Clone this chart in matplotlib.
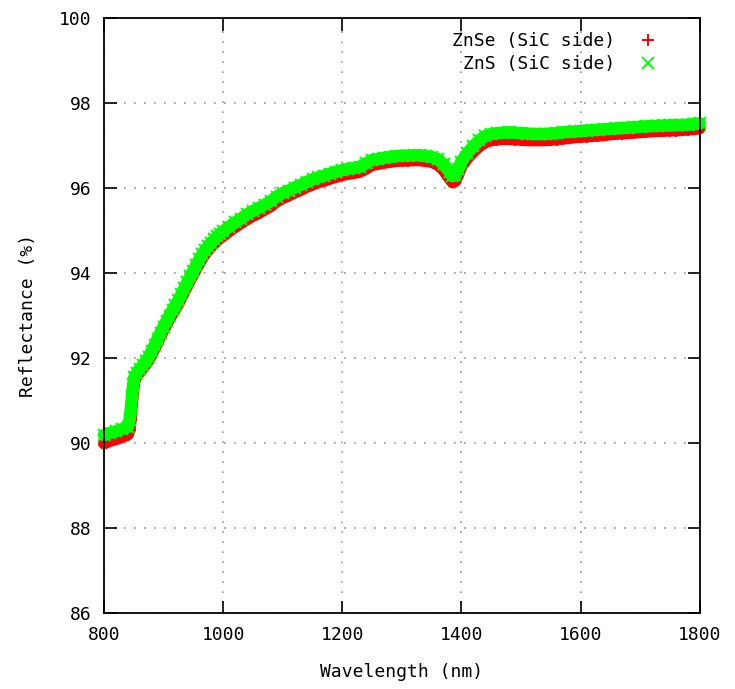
import matplotlib
matplotlib.use("Agg")
import matplotlib.pyplot as plt

# wavelength (nm)
wavelength = [800, 810, 820, 830, 840, 843, 845, 847, 849, 851, 855, 860, 865, 870,
              875, 880, 885, 890, 895, 900, 905, 910, 915, 920, 925, 930, 935, 940,
              945, 950, 955, 960, 965, 970, 975, 980, 985, 990, 995, 1000,
              1010, 1020, 1030, 1040, 1050, 1060, 1070, 1080, 1090, 1100,
              1110, 1120, 1130, 1140, 1150, 1160, 1170, 1180, 1190, 1200,
              1210, 1220, 1230, 1240, 1250, 1260, 1270, 1280, 1290, 1300,
              1310, 1320, 1330, 1340, 1350, 1360, 1370, 1380, 1385, 1390,
              1395, 1400, 1410, 1420, 1430, 1440, 1450, 1460, 1470, 1480,
              1490, 1500, 1510, 1520, 1530, 1540, 1550, 1560, 1570, 1580,
              1590, 1600, 1610, 1620, 1630, 1640, 1650, 1660, 1670, 1680,
              1690, 1700, 1710, 1720, 1730, 1740, 1750, 1760, 1770, 1780,
              1790, 1800]

# ZnS (SiC side) reflectance (%)
zns = [90.19, 90.24, 90.28, 90.33, 90.38, 90.55, 90.80, 91.10, 91.38, 91.55, 91.65, 91.74, 91.83, 91.92,
       92.03, 92.16, 92.30, 92.45, 92.60, 92.74, 92.87, 93.00, 93.12, 93.24, 93.36, 93.50, 93.64, 93.78,
       93.92, 94.05, 94.19, 94.32, 94.44, 94.54, 94.63, 94.71, 94.79, 94.86, 94.92, 94.98,
       95.09, 95.19, 95.28, 95.38, 95.46, 95.53, 95.61, 95.69, 95.80, 95.88,
       95.94, 96.01, 96.07, 96.14, 96.20, 96.25, 96.29, 96.34, 96.38, 96.42,
       96.45, 96.47, 96.50, 96.58, 96.66, 96.68, 96.71, 96.73, 96.75, 96.76,
       96.76, 96.77, 96.77, 96.75, 96.73, 96.68, 96.56, 96.38, 96.28, 96.30,
       96.45, 96.62, 96.82, 96.98, 97.12, 97.22, 97.27, 97.29, 97.30, 97.31,
       97.30, 97.29, 97.28, 97.27, 97.27, 97.27, 97.28, 97.29, 97.31, 97.32,
       97.33, 97.34, 97.35, 97.36, 97.37, 97.38, 97.39, 97.40, 97.41, 97.42,
       97.43, 97.44, 97.45, 97.46, 97.46, 97.47, 97.47, 97.48, 97.48, 97.49,
       97.50, 97.52]

# ZnSe (SiC side) reflectance (%)
znse = [89.99, 90.05, 90.09, 90.14, 90.20, 90.30, 90.55, 90.90, 91.20, 91.45, 91.58, 91.67, 91.76, 91.85,
        91.95, 92.08, 92.22, 92.37, 92.52, 92.66, 92.79, 92.92, 93.04, 93.16, 93.28, 93.42, 93.56, 93.70,
        93.84, 93.97, 94.10, 94.23, 94.35, 94.45, 94.54, 94.62, 94.69, 94.76, 94.82, 94.87,
        94.98, 95.08, 95.17, 95.26, 95.34, 95.41, 95.49, 95.57, 95.68, 95.76,
        95.82, 95.89, 95.95, 96.02, 96.08, 96.13, 96.17, 96.22, 96.26, 96.30,
        96.33, 96.35, 96.38, 96.45, 96.54, 96.56, 96.59, 96.61, 96.63, 96.64,
        96.64, 96.65, 96.65, 96.63, 96.61, 96.55, 96.42, 96.22, 96.13, 96.16,
        96.32, 96.50, 96.70, 96.85, 96.98, 97.07, 97.12, 97.14, 97.15, 97.15,
        97.14, 97.13, 97.12, 97.12, 97.12, 97.12, 97.13, 97.14, 97.16, 97.17,
        97.19, 97.20, 97.21, 97.22, 97.23, 97.24, 97.26, 97.27, 97.28, 97.29,
        97.30, 97.31, 97.32, 97.33, 97.34, 97.34, 97.35, 97.35, 97.36, 97.37,
        97.38, 97.40]

red = '#ff0000'
green = '#00ff00'

plt.rcParams['font.family'] = ['DejaVu Sans Mono']
plt.rcParams['font.size'] = 13

fig = plt.figure(figsize=(7.35, 6.89), dpi=100)
ax = fig.add_axes([0.1415, 0.110, 0.8105, 0.864])

# the measured points are so dense they merge into a band; draw the band
# underneath the point markers so it reads the same way
ax.plot(wavelength, znse, color=red, linewidth=8.5, solid_joinstyle='round',
        solid_capstyle='round', clip_on=False)
ax.plot(wavelength, znse, linestyle='none', marker='+', color=red,
        markersize=9, markeredgewidth=1.4, clip_on=False, label='ZnSe (SiC side)')
ax.plot(wavelength, zns, color=green, linewidth=9, solid_joinstyle='round',
        solid_capstyle='round', clip_on=False)
ax.plot(wavelength, zns, linestyle='none', marker='x', color=green,
        markersize=8, markeredgewidth=1.4, clip_on=False, label='ZnS (SiC side)')

ax.set_xlim(800, 1800)
ax.set_ylim(86, 100)
ax.set_xticks([800, 1000, 1200, 1400, 1600, 1800])
ax.set_yticks([86, 88, 90, 92, 94, 96, 98, 100])

ax.grid(True, color='#999999', linestyle=(0, (1, 5)), linewidth=1.2)
ax.set_axisbelow(True)
ax.tick_params(direction='in', length=9, width=1.2, top=True, right=True, pad=9)
for s in ax.spines.values():
    s.set_linewidth(1.3)
    s.set_zorder(3)

ax.set_xlabel('Wavelength (nm)', labelpad=14)
ax.set_ylabel('Reflectance (%)', labelpad=16)

ax.legend(loc='upper right', frameon=False, markerfirst=False, handlelength=1.2,
          handletextpad=1.2, labelspacing=0.25, borderaxespad=0.4, bbox_to_anchor=(0.955, 1.0))

fig.savefig('out.png', dpi=100)
